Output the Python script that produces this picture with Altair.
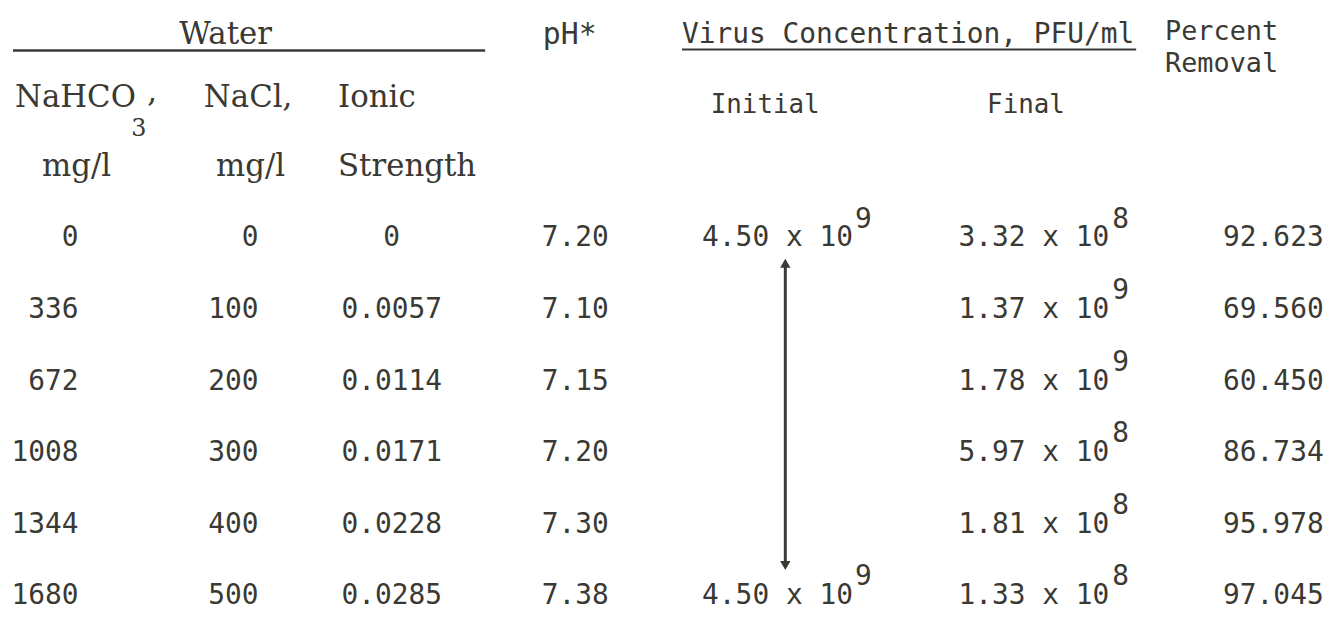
import altair as alt
import pandas as pd

# ---- table values ----
rows = [0, 1, 2, 3, 4, 5]
nahco3 = ["0", "336", "672", "1008", "1344", "1680"]
nacl = ["0", "100", "200", "300", "400", "500"]
ionic = ["0", "0.0057", "0.0114", "0.0171", "0.0228", "0.0285"]
ph = ["7.20", "7.10", "7.15", "7.20", "7.30", "7.38"]
initial_mant = ["4.50 x 10", "", "", "", "", "4.50 x 10"]
initial_exp = ["9", "", "", "", "", "9"]
final_mant = ["3.32 x 10", "1.37 x 10", "1.78 x 10", "5.97 x 10", "1.81 x 10", "1.33 x 10"]
final_exp = ["8", "9", "9", "8", "8", "8"]
removal = ["92.623", "69.560", "60.450", "86.734", "95.978", "97.045"]

INK = "#3a3933"
MONO = "DejaVu Sans Mono"
SERIF = "DejaVu Serif"
OFF = 8  # page margin

df = pd.DataFrame({
    "row": rows, "nahco3": nahco3, "nacl": nacl, "ionic": ionic, "ph": ph,
    "imant": initial_mant, "iexp": initial_exp,
    "fmant": final_mant, "fexp": final_exp, "removal": removal,
})

Y = alt.Y("row:Q", scale=alt.Scale(domain=[0, 5], range=[238 - OFF, 598 - OFF]), axis=None)
base = alt.Chart(df)


def col(field, x, align="center", size=28, font=MONO, dy=0, filt=None):
    c = base
    if filt:
        c = c.transform_filter(filt)
    return c.mark_text(font=font, fontSize=size, color=INK, align=align,
                       baseline="middle", dy=dy).encode(
        x=alt.value(x - OFF), y=Y, text=alt.Text(f"{field}:N"))


dummy = pd.DataFrame({"t": ["."]})


def label(text, x, y, align="left", size=31, font=SERIF):
    return alt.Chart(dummy).mark_text(
        text=text, font=font, fontSize=size, color=INK, align=align, baseline="middle"
    ).encode(x=alt.value(x - OFF), y=alt.value(y - OFF))


def hline(x1, x2, y, w=2.5):
    return alt.Chart(dummy).mark_rule(color=INK, strokeWidth=w).encode(
        x=alt.value(x1 - OFF), x2=alt.value(x2 - OFF), y=alt.value(y - OFF))


layers = [
    # header line 1
    label("Water", 227, 33, align="center"),
    hline(13, 488, 49),
    label("pH*", 546, 33, font=MONO, size=30),
    label("Virus Concentration, PFU/ml", 686, 33, font=MONO, size=28),
    hline(686, 1143, 48, w=2),
    label("Percent", 1172, 30, font=MONO, size=27),
    label("Removal", 1172, 63, font=MONO, size=27),
    # header line 2
    label("NaHCO", 15, 97),
    label("3", 132, 128, size=24),
    label(",", 148, 92),
    label("NaCl,", 205, 97),
    label("Ionic", 340, 97),
    label("Initial", 715, 104, font=MONO, size=26),
    label("Final", 993, 104, font=MONO, size=26),
    # header line 3
    label("mg/l", 77, 166, align="center"),
    label("mg/l", 252, 166, align="center"),
    label("Strength", 340, 166),
    # data columns
    col("nahco3", 79, align="right"),
    col("nacl", 260, align="right"),
    col("ionic", 394),
    col("ph", 545, align="left"),
    col("imant", 858, align="right", filt="datum.imant != ''"),
    col("iexp", 860, align="left", dy=-19, filt="datum.iexp != ''"),
    col("fmant", 1116, align="right"),
    col("fexp", 1119, align="left", dy=-19),
    col("removal", 1281),
]

# arrow between the two initial concentrations
AX = 790
arrow_line = alt.Chart(dummy).mark_rule(color=INK, strokeWidth=3).encode(
    x=alt.value(AX - OFF), y=alt.value(262 - OFF), y2=alt.value(568 - OFF))
arrow_up = alt.Chart(dummy).mark_point(shape="triangle-up", filled=True, color=INK,
                                        size=110, opacity=1).encode(
    x=alt.value(AX - OFF), y=alt.value(263 - OFF))
arrow_dn = alt.Chart(dummy).mark_point(shape="triangle-down", filled=True, color=INK,
                                        size=110, opacity=1).encode(
    x=alt.value(AX - OFF), y=alt.value(567 - OFF))
layers += [arrow_line, arrow_up, arrow_dn]

chart = alt.layer(*layers).properties(
    width=1336, height=610, padding=0, autosize=alt.AutoSizeParams(type="none"),
    background="white",
).configure_view(stroke=None)

chart.save("out.html", embed_options={"renderer": "svg", "actions": False})
